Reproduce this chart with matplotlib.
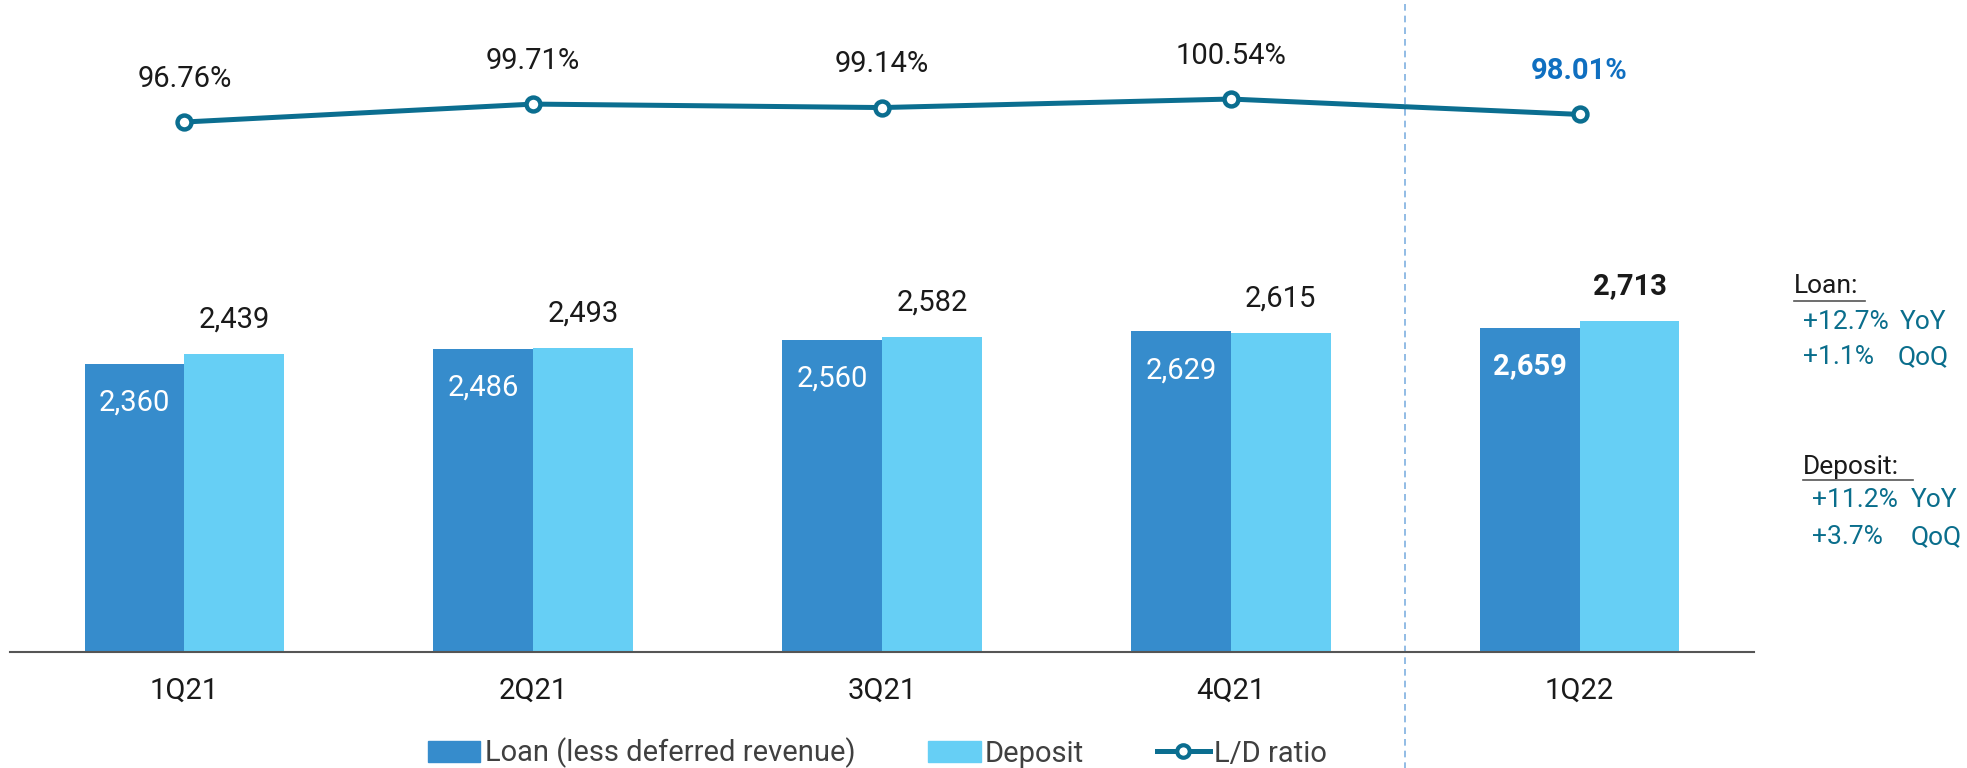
import numpy as np
import matplotlib
matplotlib.use("Agg")
import matplotlib.pyplot as plt
from matplotlib.lines import Line2D
from matplotlib.patches import Patch

plt.rcParams['font.family'] = ['Roboto', 'DejaVu Sans']

# data
quarters = ["1Q21", "2Q21", "3Q21", "4Q21", "1Q22"]
loan = [2360, 2486, 2560, 2629, 2659]
deposit = [2439, 2493, 2582, 2615, 2713]
ld_ratio = [96.76, 99.71, 99.14, 100.54, 98.01]

loan_color = '#368ccc'
dep_color = '#66cff5'
line_color = '#0b6e90'
teal_text = '#0a6e8c'

W, H = 1967, 768
fig = plt.figure(figsize=(W / 100, H / 100), dpi=100)
ax = fig.add_axes([10 / W, 1 - 652 / H, 1744 / W, 652 / H])

x = np.arange(len(quarters))
width = 0.286
ax.bar(x - width / 2, loan, width, color=loan_color, zorder=2)
ax.bar(x + width / 2, deposit, width, color=dep_color, zorder=2)
ax.set_xlim(-0.5, 4.5)
ax.set_ylim(0, 5344)

last = len(quarters) - 1
for i in x:
    bold = 'bold' if i == last else 'normal'
    ax.annotate(f"{loan[i]:,}", (i - width / 2, loan[i]), xytext=(0, -28),
                textcoords='offset points', ha='center', va='center',
                fontsize=21, color='white', fontweight=bold)
    ax.annotate(f"{deposit[i]:,}", (i + width / 2, deposit[i]), xytext=(0, 25),
                textcoords='offset points', ha='center', va='center',
                fontsize=21, color='#1a1a1a', fontweight=bold)

for s in ['top', 'right', 'left']:
    ax.spines[s].set_visible(False)
ax.spines['bottom'].set_color('#555555')
ax.spines['bottom'].set_linewidth(1.5)
ax.set_yticks([])
ax.set_xticks(x)
ax.set_xticklabels(quarters, fontsize=21, color='#1a1a1a')
ax.tick_params(axis='x', length=0, pad=18)

# L/D ratio line on twin axis
ax2 = ax.twinx()
ax2.set_ylim(9.59, 116.83)
ax2.axis('off')
ax2.plot(x, ld_ratio, color=line_color, lw=3.6, marker='o', ms=10,
         mfc='white', mec=line_color, mew=3.2, zorder=3)
for i in x:
    if i == last:
        ax2.annotate(f"{ld_ratio[i]:.2f}%", (i, ld_ratio[i]), xytext=(0, 31),
                     textcoords='offset points', ha='center', va='center',
                     fontsize=21, color='#0f6fc0', fontweight='bold')
    else:
        ax2.annotate(f"{ld_ratio[i]:.2f}%", (i, ld_ratio[i]), xytext=(0, 31),
                     textcoords='offset points', ha='center', va='center',
                     fontsize=21, color='#1a1a1a')

# dashed separator
ax.axvline(3.5, ymin=-0.18, ymax=1, color='#7fb0e0', ls=(0, (4, 3)), lw=1.2,
           clip_on=False, zorder=1)

# legend
handles = [Patch(color=loan_color), Patch(color=dep_color),
           Line2D([], [], color=line_color, lw=3.6, marker='o', ms=9,
                  mfc='white', mec=line_color, mew=3)]
labels = ["Loan (less deferred revenue)", "Deposit", "L/D ratio"]
fig.legend(handles, labels, loc='center', bbox_to_anchor=(0.446, 15 / H),
           ncol=3, frameon=False, fontsize=21, handlelength=1.8,
           handletextpad=0.15, columnspacing=2.5, labelcolor='#404040')

# growth notes
def ftext(px, py, s, **kw):
    fig.text(px / W, 1 - py / H, s, va='center', **kw)

ftext(1794, 286, "Loan:", fontsize=19, color='#1a1a1a')
fig.add_artist(Line2D([1794 / W, 1865 / W], [1 - 301 / H] * 2, color='#555555', lw=1.2))
ftext(1803, 322, "+12.7%", fontsize=19, color=teal_text)
ftext(1900, 322, "YoY", fontsize=19, color=teal_text)
ftext(1803, 357, "+1.1%", fontsize=19, color=teal_text)
ftext(1898, 357, "QoQ", fontsize=19, color=teal_text)

ftext(1803, 467, "Deposit:", fontsize=19, color='#1a1a1a')
fig.add_artist(Line2D([1803 / W, 1913 / W], [1 - 480 / H] * 2, color='#555555', lw=1.2))
ftext(1812, 500, "+11.2%", fontsize=19, color=teal_text)
ftext(1911, 500, "YoY", fontsize=19, color=teal_text)
ftext(1812, 537, "+3.7%", fontsize=19, color=teal_text)
ftext(1911, 537, "QoQ", fontsize=19, color=teal_text)

fig.savefig("out.png", dpi=100)
